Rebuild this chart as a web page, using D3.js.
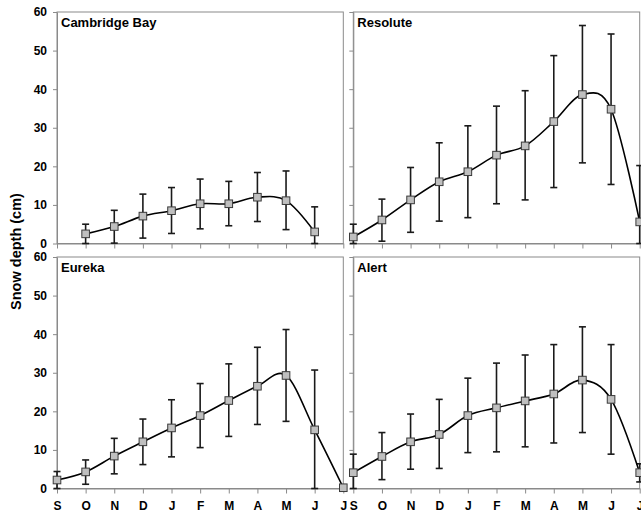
<!DOCTYPE html>
<html>
<head>
<meta charset="utf-8">
<script src="https://cdn.jsdelivr.net/npm/d3@7"></script>
<style>
  body { margin: 0; background: #fff; }
  text { font-family: Arial, "Liberation Sans", sans-serif; font-weight: bold; }
</style>
</head>
<body>
<svg id="chart" width="641" height="514"></svg>
<script>
const months = ["S", "O", "N", "D", "J", "F", "M", "A", "M", "J", "J"]
const yTicks = [0, 10, 20, 30, 40, 50, 60]
const stations = ["Cambridge Bay", "Resolute", "Eureka", "Alert"]

// mean snow depth (cm) and error bar ends, Sep -> Jul
const cambridgeMean = [null, 2.5, 4.4, 7.1, 8.5, 10.3, 10.3, 12.0, 11.1, 3.0, null]
const cambridgeHigh = [null, 5.0, 8.6, 12.8, 14.5, 16.7, 16.1, 18.4, 18.8, 9.5, null]
const cambridgeLow = [null, 0, 0.1, 1.4, 2.6, 3.8, 4.6, 5.7, 3.6, 0, null]

const resoluteMean = [1.7, 6.1, 11.3, 16.0, 18.6, 22.9, 25.3, 31.6, 38.6, 34.8, 5.6]
const resoluteHigh = [5.0, 11.5, 19.7, 26.1, 30.5, 35.6, 39.6, 48.7, 56.5, 54.3, 20.2]
const resoluteLow = [0, 0.6, 2.9, 5.8, 6.7, 10.3, 11.3, 14.5, 20.9, 15.3, 0]

const eurekaMean = [2.2, 4.3, 8.4, 12.1, 15.7, 18.9, 22.8, 26.5, 29.3, 15.2, 0.2]
const eurekaHigh = [4.4, 7.4, 13.0, 18.0, 23.0, 27.2, 32.3, 36.6, 41.2, 30.7, null]
const eurekaLow = [0, 1.1, 3.8, 6.2, 8.2, 10.6, 13.5, 16.6, 17.4, 0, null]

const alertMean = [4.1, 8.3, 12.1, 14.0, 18.9, 20.9, 22.7, 24.5, 28.1, 23.1, 4.1]
const alertHigh = [8.9, 14.5, 19.3, 23.1, 28.6, 32.5, 34.6, 37.3, 41.9, 37.3, 6.4]
const alertLow = [0, 2.3, 5.0, 5.2, 9.3, 9.5, 10.8, 11.8, 14.5, 8.9, 1.7]

const series = [
  { mean: cambridgeMean, high: cambridgeHigh, low: cambridgeLow },
  { mean: resoluteMean, high: resoluteHigh, low: resoluteLow },
  { mean: eurekaMean, high: eurekaHigh, low: eurekaLow },
  { mean: alertMean, high: alertHigh, low: alertLow }
]

const svg = d3.select("#chart")
const colsX = [[57, 343.3], [353.3, 639.7]]
const rowsY = [[12, 243.5], [257, 488.5]]
const frameColor = "#8a8a8a"

stations.forEach(function (name, i) {
  const col = i % 2, row = Math.floor(i / 2)
  const [x0, x1] = colsX[col]
  const [y0, y1] = rowsY[row]
  const s = series[i]

  const x = d3.scalePoint().domain(d3.range(months.length)).range([x0, x1])
  const y = d3.scaleLinear().domain([0, 60]).range([y1, y0])

  const g = svg.append("g")

  // frame
  g.append("rect")
    .attr("x", x0).attr("y", y0)
    .attr("width", x1 - x0).attr("height", y1 - y0)
    .attr("fill", "none").attr("stroke", frameColor)

  // axes
  const yAxis = g.append("g")
    .attr("transform", "translate(" + x0 + ",0)")
    .call(d3.axisLeft(y).tickValues(yTicks).tickSize(4).tickSizeOuter(0).tickPadding(6)
      .tickFormat(col === 0 ? d3.format("d") : ""))
  const xAxis = g.append("g")
    .attr("transform", "translate(0," + y1 + ")")
    .call(d3.axisBottom(x).tickSize(5).tickSizeOuter(0).tickPadding(7.5)
      .tickFormat(row === 1 ? function (d) { return months[d] } : ""))

  ;[yAxis, xAxis].forEach(function (a) {
    a.select(".domain").attr("stroke", frameColor)
    a.selectAll(".tick line").attr("stroke", frameColor)
    a.selectAll("text").attr("fill", "#000").style("font-size", "12px")
  })

  // station name
  g.append("text")
    .attr("x", x0 + 4).attr("y", y0 + 15)
    .style("font-size", "13px")
    .text(name)

  const idx = d3.range(months.length)

  // error bars
  const bars = g.append("g").attr("stroke", "#1a1a1a").attr("stroke-width", 1.6)
  idx.filter(function (d) { return s.high[d] != null }).forEach(function (d) {
    const cx = x(d)
    bars.append("line").attr("x1", cx).attr("x2", cx)
      .attr("y1", y(s.high[d])).attr("y2", y(s.low[d]))
    bars.append("line").attr("x1", cx - 3.5).attr("x2", cx + 3.5)
      .attr("y1", y(s.high[d])).attr("y2", y(s.high[d]))
    bars.append("line").attr("x1", cx - 3.5).attr("x2", cx + 3.5)
      .attr("y1", y(s.low[d])).attr("y2", y(s.low[d]))
  })

  // smoothed line
  const pts = idx.filter(function (d) { return s.mean[d] != null })
  const line = d3.line()
    .x(function (d) { return x(d) })
    .y(function (d) { return y(s.mean[d]) })
    .curve(d3.curveCardinal)
  g.append("path")
    .attr("d", line(pts))
    .attr("fill", "none")
    .attr("stroke", "#000")
    .attr("stroke-width", 1.6)

  // markers
  g.selectAll(".mk")
    .data(pts)
    .enter().append("rect")
    .attr("class", "mk")
    .attr("x", function (d) { return x(d) - 3.8 })
    .attr("y", function (d) { return y(s.mean[d]) - 3.8 })
    .attr("width", 7.6)
    .attr("height", 7.6)
    .attr("fill", "#bfbfbf")
    .attr("stroke", "#3a3a3a")
    .attr("stroke-width", 1)
})

// y axis title
svg.append("text")
  .attr("transform", "translate(20.5,251.5) rotate(-90)")
  .attr("text-anchor", "middle")
  .style("font-size", "14.5px")
  .text("Snow depth (cm)")
</script>
</body>
</html>
